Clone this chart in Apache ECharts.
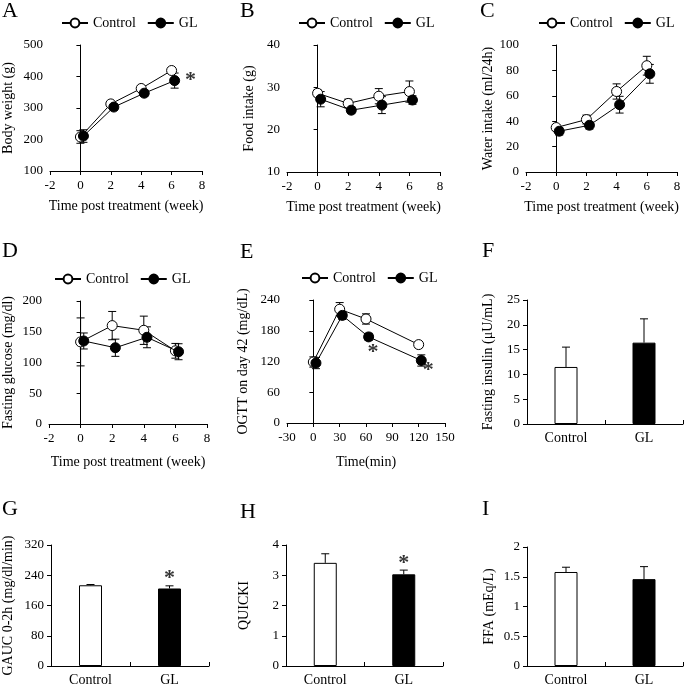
<!DOCTYPE html>
<html>
<head>
<meta charset="utf-8">
<script src="https://cdn.jsdelivr.net/npm/echarts@6/dist/echarts.min.js"></script>
<style>
  html, body { margin: 0; padding: 0; background: #fff; }
  #chart { width: 685px; height: 687px; }
</style>
</head>
<body>
<div id="chart"></div>
<script>
// ---- data ----
const weeks = [0, 2, 4, 6];
const ogttTimes = [0, 30, 60, 120];
const groups = ['Control', 'GL'];

// A: body weight (g)
const bodyCtrl = [208, 313, 362, 419];
const bodyCtrlErr = [20, 8, 8, 6];
const bodyGL = [211, 303, 347, 387];
const bodyGLErr = [20, 10, 10, 24];

// B: food intake (g)
const foodCtrl = [28.6, 26.2, 27.9, 29.0];
const foodCtrlErr = [0.8, 1.0, 1.8, 2.5];
const foodGL = [27.2, 24.6, 25.8, 27.0];
const foodGLErr = [1.8, 0.8, 2.0, 1.0];

// C: water intake (ml/24h)
const waterCtrl = [35, 41.3, 63.4, 83.7];
const waterCtrlErr = [2, 3.5, 6, 7.4];
const waterGL = [32.1, 36.8, 53, 77.3];
const waterGLErr = [3, 3, 6.6, 7.4];

// D: fasting glucose (mg/dl)
const glucCtrl = [133.5, 160, 152.4, 119];
const glucCtrlErr = [39, 23, 23, 12];
const glucGL = [135, 124, 141, 117.5];
const glucGLErr = [13, 14, 17, 13];

// E: OGTT on day 42 (mg/dL)
const ogttCtrl = [119, 222, 203, 153];
const ogttCtrlErr = [10, 13, 10, 6];
const ogttGL = [117, 210, 168, 122];
const ogttGLErr = [11, 8, 7, 11];

// F-I: bars [Control, GL]
const insulin = [11.5, 16.4];
const insulinErr = [4, 4.8];
const gauc = [213.5, 205];
const gaucErr = [2, 7];
const quicki = [3.41, 3.03];
const quickiErr = [0.3, 0.14];
const ffa = [1.58, 1.46];
const ffaErr = [0.08, 0.21];

// significance marks [x, y]
const starsA = [[7.25, 403]];
const starsE = [[68, 147], [131, 112]];
const starsG = [[1, 245]];
const starsH = [[1, 3.57]];

// ---- layout ----
const FONT = '"Liberation Serif", "Times New Roman", serif';
const glShiftWeek = 0.2;
const glShiftMin = 3;

const chart = echarts.init(document.getElementById('chart'));

const grids = [];
const xAxes = [];
const yAxes = [];
const series = [];
const legends = [];
const titles = [];

function errLine(x1, y1, x2, y2) {
  return { type: 'line', shape: { x1, y1, x2, y2 }, style: { stroke: '#000', lineWidth: 1 } };
}

function renderErr(params, api) {
  const x = api.value(0), y = api.value(1), e = api.value(2);
  const lo = api.coord([x, y - e]);
  const hi = api.coord([x, y + e]);
  const w = 4;
  return {
    type: 'group',
    children: [
      errLine(lo[0], lo[1], hi[0], hi[1]),
      errLine(hi[0] - w, hi[1], hi[0] + w, hi[1]),
      errLine(lo[0] - w, lo[1], lo[0] + w, lo[1])
    ]
  };
}

function renderErrUp(params, api) {
  const x = api.value(0), y = api.value(1), e = api.value(2);
  const lo = api.coord([x, y]);
  const hi = api.coord([x, y + e]);
  const w = 4;
  return {
    type: 'group',
    children: [
      errLine(lo[0], lo[1], hi[0], hi[1]),
      errLine(hi[0] - w, hi[1], hi[0] + w, hi[1])
    ]
  };
}

function letter(txt, left, top) {
  titles.push({
    text: txt, left, top, padding: 0,
    textStyle: { fontFamily: FONT, fontSize: 22, fontWeight: 'normal', color: '#000' }
  });
}

function yAxisOf(i, o) {
  return {
    gridIndex: i, type: 'value', min: o.min, max: o.max, interval: o.interval,
    name: o.name, nameLocation: 'middle', nameRotate: 90, nameGap: o.nameGap,
    nameTextStyle: { fontFamily: FONT, fontSize: 14, color: '#000' },
    axisLine: { show: true, lineStyle: { color: '#000', width: 1 } },
    axisTick: { show: true, length: 4, lineStyle: { color: '#000' } },
    axisLabel: { show: true, fontFamily: FONT, fontSize: 13, color: '#000', margin: 7 },
    splitLine: { show: false }
  };
}

function linePanel(i, o) {
  grids.push({ left: o.grid[0], top: o.grid[1], width: o.grid[2], height: o.grid[3] });
  xAxes.push({
    gridIndex: i, type: 'value', min: o.xMin, max: o.xMax, interval: o.xInt,
    name: o.xName, nameLocation: 'middle', nameGap: o.xGap,
    nameTextStyle: { fontFamily: FONT, fontSize: 14, color: '#000' },
    axisLine: { show: true, onZero: false, lineStyle: { color: '#000', width: 1 } },
    axisTick: { show: true, length: 4, lineStyle: { color: '#000' } },
    axisLabel: { show: true, fontFamily: FONT, fontSize: 13, color: '#000', margin: 8, showMinLabel: true, showMaxLabel: true },
    splitLine: { show: false }
  });
  yAxes.push(yAxisOf(i, o));
  const ctrl = o.xs.map((x, k) => [x, o.ctrl[k]]);
  const gl = o.xs.map((x, k) => [x + o.shift, o.gl[k]]);
  series.push(
    {
      type: 'custom', name: 'Control err', xAxisIndex: i, yAxisIndex: i, z: 1,
      renderItem: renderErr, encode: { x: 0, y: 1 },
      data: o.xs.map((x, k) => [x, o.ctrl[k], o.ctrlErr[k]])
    },
    {
      type: 'custom', name: 'GL err', xAxisIndex: i, yAxisIndex: i, z: 1,
      renderItem: renderErr, encode: { x: 0, y: 1 },
      data: o.xs.map((x, k) => [x + o.shift, o.gl[k], o.glErr[k]])
    },
    {
      type: 'line', name: 'Control', xAxisIndex: i, yAxisIndex: i, z: 3,
      data: ctrl, symbol: 'circle', symbolSize: 10, showSymbol: true,
      lineStyle: { color: '#000', width: 1 },
      itemStyle: { color: '#fff', borderColor: '#000', borderWidth: 1 },
      emphasis: { disabled: true }
    },
    {
      type: 'line', name: 'GL', xAxisIndex: i, yAxisIndex: i, z: 4,
      data: gl, symbol: 'circle', symbolSize: 10, showSymbol: true,
      lineStyle: { color: '#000', width: 1 },
      itemStyle: { color: '#000', borderColor: '#000', borderWidth: 1 },
      emphasis: { disabled: true }
    }
  );
  if (o.stars) starSeries(i, o.stars);
  legends.push({
    data: groups, left: o.legend[0], top: o.legend[1], padding: 0,
    itemWidth: 26, itemHeight: 11, itemGap: 11, selectedMode: false,
    textStyle: { fontFamily: FONT, fontSize: 14, color: '#000' }
  });
}

function starSeries(i, pts) {
  series.push({
    type: 'scatter', name: 'sig', xAxisIndex: i, yAxisIndex: i, z: 5,
    symbolSize: 0, data: pts, silent: true,
    label: {
      show: true, position: 'inside', formatter: '*', offset: [0, 5],
      fontFamily: FONT, fontSize: 22, fontWeight: 'bold', color: '#000'
    }
  });
}

function barPanel(i, o) {
  grids.push({ left: o.grid[0], top: o.grid[1], width: o.grid[2], height: o.grid[3] });
  xAxes.push({
    gridIndex: i, type: 'category', data: groups, boundaryGap: true,
    axisLine: { show: true, lineStyle: { color: '#000', width: 1 } },
    axisTick: { show: true, inside: true, length: 4, lineStyle: { color: '#000' } },
    axisLabel: { show: true, fontFamily: FONT, fontSize: 14, color: '#000', margin: 7 },
    splitLine: { show: false }
  });
  yAxes.push(yAxisOf(i, o));
  series.push(
    {
      type: 'bar', name: 'bars', xAxisIndex: i, yAxisIndex: i, barWidth: 23, z: 2,
      data: o.vals.map((v, k) => ({ value: v, itemStyle: { color: k === 0 ? '#fff' : '#000' } })),
      itemStyle: { borderColor: '#000', borderWidth: 1 },
      emphasis: { disabled: true }
    },
    {
      type: 'custom', name: 'bar err', xAxisIndex: i, yAxisIndex: i, z: 1,
      renderItem: renderErrUp, encode: { x: 0, y: 1 },
      data: o.vals.map((v, k) => [k, v, o.errs[k]])
    }
  );
  if (o.stars) starSeries(i, o.stars);
}

linePanel(0, {
  grid: [50, 45, 152, 126], xs: weeks, shift: glShiftWeek,
  xMin: -2, xMax: 8, xInt: 2, xName: 'Time post treatment (week)', xGap: 28,
  min: 100, max: 500, interval: 100, name: 'Body weight (g)', nameGap: 35,
  ctrl: bodyCtrl, ctrlErr: bodyCtrlErr, gl: bodyGL, glErr: bodyGLErr,
  stars: starsA, legend: [61, 16]
});
linePanel(1, {
  grid: [287, 45, 153, 127], xs: weeks, shift: glShiftWeek,
  xMin: -2, xMax: 8, xInt: 2, xName: 'Time post treatment (week)', xGap: 28,
  min: 10, max: 40, interval: 10, name: 'Food intake (g)', nameGap: 31,
  ctrl: foodCtrl, ctrlErr: foodCtrlErr, gl: foodGL, glErr: foodGLErr,
  legend: [298, 16]
});
linePanel(2, {
  grid: [526, 45, 151, 127], xs: weeks, shift: glShiftWeek,
  xMin: -2, xMax: 8, xInt: 2, xName: 'Time post treatment (week)', xGap: 28,
  min: 0, max: 100, interval: 20, name: 'Water intake (ml/24h)', nameGap: 27,
  ctrl: waterCtrl, ctrlErr: waterCtrlErr, gl: waterGL, glErr: waterGLErr,
  legend: [538, 16]
});
linePanel(3, {
  grid: [49, 301, 158, 123], xs: weeks, shift: glShiftWeek,
  xMin: -2, xMax: 8, xInt: 2, xName: 'Time post treatment (week)', xGap: 31,
  min: 0, max: 200, interval: 50, name: 'Fasting glucose (mg/dl)', nameGap: 34,
  ctrl: glucCtrl, ctrlErr: glucCtrlErr, gl: glucGL, glErr: glucGLErr,
  legend: [54, 272]
});
linePanel(4, {
  grid: [287, 300, 158, 123], xs: ogttTimes, shift: glShiftMin,
  xMin: -30, xMax: 150, xInt: 30, xName: 'Time(min)', xGap: 32,
  min: 0, max: 240, interval: 60, name: 'OGTT on day 42 (mg/dL)', nameGap: 37,
  ctrl: ogttCtrl, ctrlErr: ogttCtrlErr, gl: ogttGL, glErr: ogttGLErr,
  stars: starsE, legend: [301, 271]
});
barPanel(5, {
  grid: [527, 300, 156, 124], vals: insulin, errs: insulinErr,
  min: 0, max: 25, interval: 5, name: 'Fasting insulin (μU/mL)', nameGap: 32
});
barPanel(6, {
  grid: [49, 545, 160, 123], vals: gauc, errs: gaucErr,
  min: 0, max: 320, interval: 80, name: 'GAUC 0-2h (mg/dl/min)', nameGap: 36, stars: starsG
});
barPanel(7, {
  grid: [286, 545, 157, 123], vals: quicki, errs: quickiErr,
  min: 0, max: 4, interval: 1, name: 'QUICKI', nameGap: 35, stars: starsH
});
barPanel(8, {
  grid: [527, 547, 156, 122], vals: ffa, errs: ffaErr,
  min: 0, max: 2, interval: 0.5, name: 'FFA (mEq/L)', nameGap: 31
});

letter('A', 2, 0);
letter('B', 240, 0);
letter('C', 480, 0);
letter('D', 2, 240);
letter('E', 240, 241);
letter('F', 482, 240);
letter('G', 2, 498);
letter('H', 240, 501);
letter('I', 482, 498);

chart.setOption({
  animation: false,
  backgroundColor: '#fff',
  textStyle: { fontFamily: FONT },
  title: titles,
  legend: legends,
  grid: grids,
  xAxis: xAxes,
  yAxis: yAxes,
  series: series
});
</script>
</body>
</html>
